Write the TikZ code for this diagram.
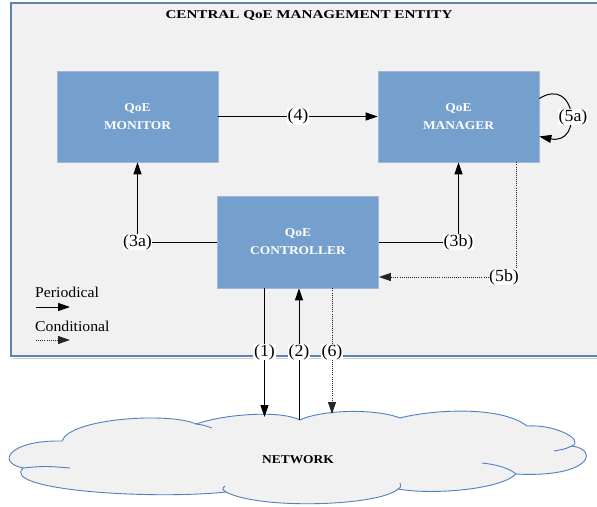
\documentclass[tikz,border=0pt]{standalone}
\usepackage{fontspec}
\setmainfont{Liberation Serif}[FakeStretch=1.05]
\newfontfamily\boxfont{Liberation Serif}[FakeStretch=1.12]
\newfontfamily\titlefont{Liberation Serif}[FakeStretch=1.26]
\usetikzlibrary{arrows.meta}
\definecolor{boxblue}{RGB}{117,159,205}
\definecolor{boxedge}{RGB}{160,185,215}
\definecolor{panel}{RGB}{241,241,241}
\definecolor{panelborder}{RGB}{95,130,175}
\definecolor{panelshadow}{RGB}{190,205,225}
\definecolor{cloudline}{RGB}{79,129,189}
\begin{document}
\begin{tikzpicture}[x=1pt,y=-1pt,
  box/.style={rectangle, fill=boxblue, draw=boxedge, line width=0.6pt,
    minimum width=161pt, minimum height=91pt, inner sep=0pt, text=white,
    align=center, font=\boxfont\bfseries\fontsize{12}{18}\selectfont},
  lab/.style={fill=white, inner sep=0.6pt, font=\fontsize{17}{17}\selectfont},
  arr/.style={-{Triangle[length=12pt,width=8pt]}, line width=1pt, black},
  dotarr/.style={-{Triangle[length=12pt,width=8pt]}, line width=0.9pt, black!85,
    dash pattern=on 1pt off 1.1pt},
  cloudpath/.style={draw=cloudline, line width=0.9pt}]
\clip (0,0) rectangle (597,506);
\fill[white] (0,0) rectangle (597,506);
% panel
\draw[panelshadow, line width=1.5pt] (13,358.5) -- (620,358.5);
\draw[draw=panelborder, fill=panel, line width=1.2pt] (11,3) rectangle (620,356);
\node[font=\titlefont\bfseries\fontsize{12}{12}\selectfont] (title) at (309,16) {CENTRAL QoE MANAGEMENT ENTITY};
% boxes
\node[box] (mon) at (137.5,116.5) {QoE\\MONITOR};
\node[box] (man) at (458.5,116.5) {QoE\\MANAGER};
\node[box, minimum height=92pt] (con) at (298,242) {QoE\\CONTROLLER};
% cloud
\fill[panel] (62,441) .. controls (70,418) and (170,412) .. (196,424)
 .. controls (225,414) and (280,410) .. (300,420)
 .. controls (320,410) and (375,408) .. (400,418)
 .. controls (430,410) and (500,405) .. (527,426)
 .. controls (555,424) and (585,440) .. (572,446)
 .. controls (600,450) and (590,478) .. (516,474)
 .. controls (500,490) and (430,495) .. (398,489)
 .. controls (380,506) and (260,510) .. (226,492)
 .. controls (150,500) and (0,490) .. (23,468)
 .. controls (-5,462) and (10,440) .. (62,441) -- cycle;
\draw[cloudpath] (62,441) .. controls (70,418) and (170,412) .. (196,424)
 .. controls (225,414) and (280,410) .. (300,420)
 .. controls (320,410) and (375,408) .. (400,418)
 .. controls (430,410) and (500,405) .. (527,426)
 .. controls (555,424) and (585,440) .. (572,446)
 .. controls (600,450) and (590,478) .. (516,474)
 .. controls (500,490) and (430,495) .. (398,489)
 .. controls (380,506) and (260,510) .. (226,492)
 .. controls (150,500) and (0,490) .. (23,468)
 .. controls (-5,462) and (10,440) .. (62,441) -- cycle;
\draw[cloudpath] (196,424) .. controls (203,425) .. (212,428);
\draw[cloudpath] (572,446) .. controls (565,449) .. (554,451);
\draw[cloudpath] (482,463) .. controls (500,465) and (510,469) .. (516,474);
\draw[cloudpath] (398,489) .. controls (401,487) .. (400,483);
\draw[cloudpath] (23,468) .. controls (45,466) .. (70,468);
\draw[cloudpath] (226,492) .. controls (222,489) .. (225,486);
\node[font=\boxfont\bfseries\fontsize{12}{12}\selectfont] (net) at (298,460) {NETWORK};
\coordinate (n1) at (264.5,417);
\coordinate (n2) at (299,420);
\coordinate (n6) at (332,414);
% connectors
\draw[arr] (mon) -- (man) node[lab, midway] (l4) {(4)};
\draw[arr] (con.west) -| (mon.south) node[lab, pos=0.5] (l3a) {(3a)};
\draw[arr] (con.east) -| (man.south) node[lab, pos=0.5] (l3b) {(3b)};
\coordinate (m5b) at ([xshift=-22.5pt]man.south east);
\draw[dotarr] (m5b) |- ([yshift=-35pt]con.east);
\node[lab] (l5b) at (504,277) {(5b)};
\coordinate (s5a) at ([yshift=18pt]man.east);
\coordinate (e5a) at ([yshift=-20pt]man.east);
\draw[arr] (s5a) .. controls +(37,-23) and +(44,9) .. (e5a);
\node[lab] (l5a) at (573,117) {(5a)};
\coordinate (c1) at ([xshift=-33.5pt]con.south);
\coordinate (c2) at ([xshift=1pt]con.south);
\coordinate (c6) at ([xshift=34pt]con.south);
\draw[arr] (c1) -- (n1);
\draw[arr] (n2) -- (c2);
\draw[dotarr] (c6) -- (n6);
\node[lab] (l1) at (264.5,352) {(1)};
\node[lab] (l2) at (299,352) {(2)};
\node[lab] (l6) at (332,352) {(6)};
% legend
\node[anchor=west, font=\fontsize{15}{15}\selectfont, inner sep=0pt] (per) at (35,292) {Periodical};
\coordinate (pa) at (36,307);
\coordinate (pb) at (70,307);
\draw[arr] (pa) -- (pb);
\node[anchor=west, font=\fontsize{15}{15}\selectfont, inner sep=0pt] (cond) at (35,326) {Conditional};
\coordinate (ca) at (36,340);
\coordinate (cb) at (70,340);
\draw[dotarr] (ca) -- (cb);
\end{tikzpicture}
\end{document}
